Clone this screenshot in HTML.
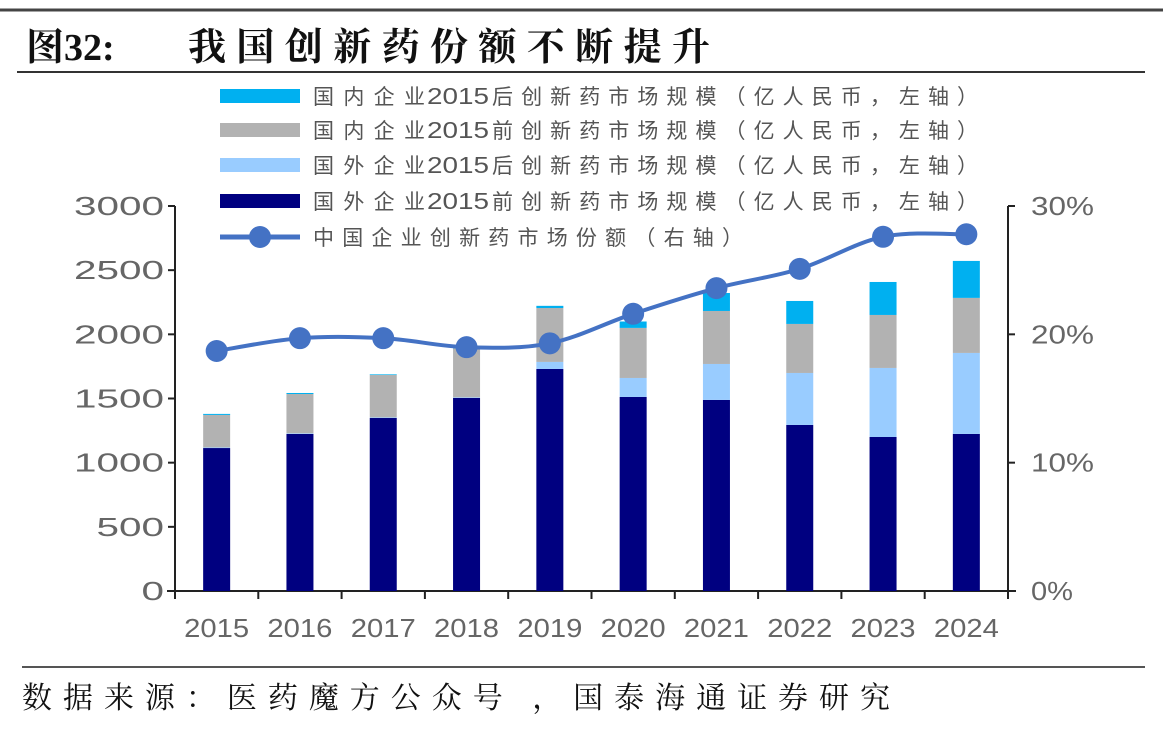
<!DOCTYPE html>
<html><head><meta charset="utf-8"><style>
html,body{margin:0;padding:0;background:#fff;}
svg{display:block;}
</style></head><body>
<svg id="chart" width="1163" height="738" viewBox="0 0 1163 738" xmlns="http://www.w3.org/2000/svg">
<line x1="0" y1="10" x2="1163" y2="10" stroke="#444" stroke-width="3"/>
<text x="26" y="60" font-family="Liberation Serif, Noto Serif CJK SC, serif" font-weight="bold" font-size="38" fill="#111">图32:</text>
<text x="188" y="60" font-family="Liberation Serif, Noto Serif CJK SC, serif" font-weight="bold" font-size="38" fill="#111" textLength="522" lengthAdjust="spacing">我国创新药份额不断提升</text>
<line x1="17" y1="72" x2="1145" y2="72" stroke="#333" stroke-width="2"/>
<g id="legend"></g>
<g id="axes"></g>
<g id="bars"></g>
<g id="line"></g>
<line x1="22" y1="667" x2="1145" y2="667" stroke="#555" stroke-width="2"/>
<text x="22" y="708" font-family="Liberation Serif, Noto Serif CJK SC, serif" font-size="30" fill="#111" textLength="868" lengthAdjust="spacing">数据来源：医药魔方公众号 ，国泰海通证券研究</text>
</svg>
<script>
const years = ['2015','2016','2017','2018','2019','2020','2021','2022','2023','2024'];
const foreignPre = [1114,1224,1348,1504,1730,1512,1489,1294,1200,1224];
const foreignPost = [5,5,5,5,55,148,280,405,538,631];
const domesticPre = [253,306,330,381,420,390,413,382,413,429];
const domesticPost = [8,8,5,10,17,50,140,179,257,288];
const sharePct = [18.7,19.7,19.7,19.0,19.3,21.6,23.6,25.1,27.6,27.8];
const leftTicks = [0,500,1000,1500,2000,2500,3000];
const rightTicks = [0,10,20,30];

const NS='http://www.w3.org/2000/svg';
function mk(tag, attrs, parent){const e=document.createElementNS(NS,tag);for(const k in attrs)e.setAttribute(k,attrs[k]);parent.appendChild(e);return e;}
const X0=175,X1=1008,Y0=591,Y1=206;
const catW=(X1-X0)/years.length;
const xc=i=>X0+catW*(i+0.5);
const yL=v=>Y0-(v/3000)*(Y0-Y1);
const yR=v=>Y0-(v/30)*(Y0-Y1);
const font='Liberation Sans, Noto Sans CJK SC, sans-serif';

const axes=document.getElementById('axes');
let e;
e=mk('line',{x1:X0,y1:Y1,x2:X0,y2:Y0,stroke:'#222','stroke-width':2},axes);


e=mk('line',{x1:X1,y1:Y1,x2:X1,y2:Y0,stroke:'#222','stroke-width':2},axes);


e=mk('line',{x1:X0-8,y1:Y0,x2:X1+8,y2:Y0,stroke:'#222','stroke-width':2},axes);


leftTicks.forEach(t=>{
  e=mk('line',{x1:X0-7,y1:yL(t),x2:X0,y2:yL(t),stroke:'#222','stroke-width':2},axes);
  
  
  const s=String(t);
  e=mk('text',{x:X0-11,y:yL(t)+9,'text-anchor':'end','font-family':font,'font-size':26,fill:'#666',textLength:s.length*22.5,lengthAdjust:'spacingAndGlyphs'},axes);
  e.textContent=s;
  
  
});
rightTicks.forEach(t=>{
  e=mk('line',{x1:X1,y1:yR(t),x2:X1+7,y2:yR(t),stroke:'#222','stroke-width':2},axes);
  
  
  const s=t+'%';
  e=mk('text',{x:X1+23,y:yR(t)+9,'font-family':font,'font-size':26,fill:'#666',textLength:t===0?42:63,lengthAdjust:'spacingAndGlyphs'},axes);
  e.textContent=s;
  
  
});
for(let i=0;i<=years.length;i++){
  e=mk('line',{x1:X0+catW*i,y1:Y0,x2:X0+catW*i,y2:Y0+8,stroke:'#222','stroke-width':2},axes);
  
  
}
years.forEach((y,i)=>{
  e=mk('text',{x:xc(i),y:Y0+46,'text-anchor':'middle','font-family':font,'font-size':26,fill:'#666',textLength:65,lengthAdjust:'spacingAndGlyphs'},axes);
  e.textContent=y;
  
  
});

const bars=document.getElementById('bars');
const series=[[foreignPre,'#000080','bar-foreign-pre2015'],[foreignPost,'#99ccff','bar-foreign-post2015'],[domesticPre,'#b2b2b2','bar-domestic-pre2015'],[domesticPost,'#00b0f0','bar-domestic-post2015']];
const bw=27;
years.forEach((y,i)=>{
  let acc=0;
  series.forEach(s=>{
    const v=s[0][i];
    const r=mk('rect',{x:xc(i)-bw/2,y:yL(acc+v),width:bw,height:yL(acc)-yL(acc+v),fill:s[1]},bars);
    
    
    acc+=v;
  });
});

const lg=document.getElementById('line');
const pts=sharePct.map((v,i)=>[xc(i),yR(v)]);
let d='M'+pts[0][0]+','+pts[0][1];
for(let i=0;i<pts.length-1;i++){
  const p0=pts[Math.max(0,i-1)],p1=pts[i],p2=pts[i+1],p3=pts[Math.min(pts.length-1,i+2)];
  const t=0.17;
  d+=' C'+(p1[0]+(p2[0]-p0[0])*t)+','+(p1[1]+(p2[1]-p0[1])*t)+' '+(p2[0]-(p3[0]-p1[0])*t)+','+(p2[1]-(p3[1]-p1[1])*t)+' '+p2[0]+','+p2[1];
}
e=mk('path',{d:d,fill:'none',stroke:'#4472c4','stroke-width':4},lg);


pts.forEach(p=>{
  e=mk('circle',{cx:p[0],cy:p[1],r:11,fill:'#4472c4'},lg);
  
  
});

const leg=document.getElementById('legend');
const legItems=[['#00b0f0','国内企业','2015','后创新药市场规模（亿人民币，左轴）',96],['#b2b2b2','国内企业','2015','前创新药市场规模（亿人民币，左轴）',130],['#99ccff','国外企业','2015','后创新药市场规模（亿人民币，左轴）',165],['#000080','国外企业','2015','前创新药市场规模（亿人民币，左轴）',201]];
legItems.forEach(it=>{
  e=mk('rect',{x:220,y:it[4]-7,width:80,height:14,fill:it[0]},leg);
  
  
  e=mk('text',{x:313,y:it[4]+8,'font-family':font,'font-size':21,fill:'#555',textLength:112,lengthAdjust:'spacing'},leg);
  e.textContent=it[1];
  
  
  e=mk('text',{x:427,y:it[4]+8,'font-family':font,'font-size':23,fill:'#555',textLength:62,lengthAdjust:'spacingAndGlyphs'},leg);
  e.textContent=it[2];
  
  
  e=mk('text',{x:492,y:it[4]+8,'font-family':font,'font-size':21,fill:'#555',textLength:486,lengthAdjust:'spacing'},leg);
  e.textContent=it[3];
  
  
});
e=mk('line',{x1:220,y1:237,x2:300,y2:237,stroke:'#4472c4','stroke-width':5},leg);


e=mk('circle',{cx:260,cy:237,r:11,fill:'#4472c4'},leg);


e=mk('text',{x:313,y:245,'font-family':font,'font-size':21,fill:'#555',textLength:430,lengthAdjust:'spacing'},leg);
e.textContent='中国企业创新药市场份额（右轴）';


</script>
</body></html>
